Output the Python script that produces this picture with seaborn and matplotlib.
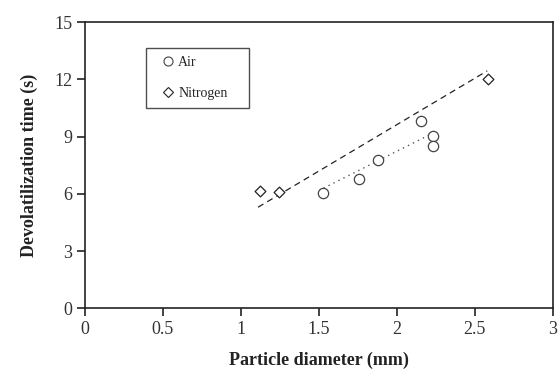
import matplotlib
matplotlib.use("Agg")
import matplotlib.pyplot as plt
import seaborn as sns
import pandas as pd
from matplotlib.lines import Line2D

# Data
air_d = [1.525, 1.755, 1.88, 2.155, 2.235, 2.23]
air_t = [6.05, 6.8, 7.8, 9.8, 9.05, 8.5]
n2_d = [1.12, 1.245, 2.585]
n2_t = [6.15, 6.1, 12.0]

# trend-line endpoints
air_fit_d = [1.53, 2.235]
air_fit_t = [6.3, 9.2]
n2_fit_d = [1.11, 2.58]
n2_fit_t = [5.3, 12.45]

x_ticks = [0, 0.5, 1, 1.5, 2, 2.5, 3]
x_ticklabels = ["0", "0.5", "1", "1.5", "2", "2.5", "3"]
y_ticks = [0, 3, 6, 9, 12, 15]

sns.set_theme(style="ticks")
plt.rcParams["font.family"] = ["Liberation Serif", "DejaVu Serif"]

fig = plt.figure(figsize=(5.58, 3.71), dpi=100)
ax = fig.add_axes([0.1523, 0.169, 0.8382, 0.771])

df_air = pd.DataFrame({"d": air_d, "t": air_t})
df_n2 = pd.DataFrame({"d": n2_d, "t": n2_t})
df_air_fit = pd.DataFrame({"d": air_fit_d, "t": air_fit_t})
df_n2_fit = pd.DataFrame({"d": n2_fit_d, "t": n2_fit_t})

sns.lineplot(data=df_n2_fit, x="d", y="t", ax=ax, color="#222222", lw=0.9,
             linestyle=(0, (5, 3.5)), legend=False)
sns.lineplot(data=df_air_fit, x="d", y="t", ax=ax, color="#555555", lw=1.0,
             linestyle=(0, (1, 3)), legend=False)
sns.scatterplot(data=df_air, x="d", y="t", ax=ax, marker="o", s=55,
                facecolor="white", edgecolor="#444444", linewidth=0.9, zorder=3)
sns.scatterplot(data=df_n2, x="d", y="t", ax=ax, marker="D", s=30,
                facecolor="white", edgecolor="#222222", linewidth=0.9, zorder=3)

ax.set_xlim(0, 3)
ax.set_ylim(0, 15)
ax.set_xticks(x_ticks)
ax.set_xticklabels(x_ticklabels)
ax.set_yticks(y_ticks)
for s in ax.spines.values():
    s.set_color("#222222")
    s.set_linewidth(1.2)
ax.tick_params(direction="out", length=6, width=1.2, color="#222222",
               labelsize=13, labelcolor="#333333", pad=3)
ax.set_xlabel("Particle diameter (mm)", fontsize=13, fontweight="bold",
              color="#222222", labelpad=10)
ax.set_ylabel("Devolatilization time (s)", fontsize=13, fontweight="bold",
              color="#222222", labelpad=12)

handles = [
    Line2D([], [], marker="o", linestyle="none", markerfacecolor="white",
           markeredgecolor="#444444", markersize=6.5, markeredgewidth=0.8),
    Line2D([], [], marker="D", linestyle="none", markerfacecolor="white",
           markeredgecolor="#222222", markersize=5, markeredgewidth=0.8),
]
leg = ax.legend(handles, ["Air", "Nitrogen"], loc="upper left",
                bbox_to_anchor=(0.131, 0.91, 0.22, 0.0), mode="expand",
                fontsize=10, frameon=True,
                fancybox=False, borderpad=0.6, labelspacing=1.25,
                handletextpad=-0.3, handlelength=2.0, borderaxespad=0,
                edgecolor="#222222")
leg.get_frame().set_linewidth(1.0)
leg.get_frame().set_boxstyle("square", pad=0)

fig.savefig("out.png", dpi=100)
